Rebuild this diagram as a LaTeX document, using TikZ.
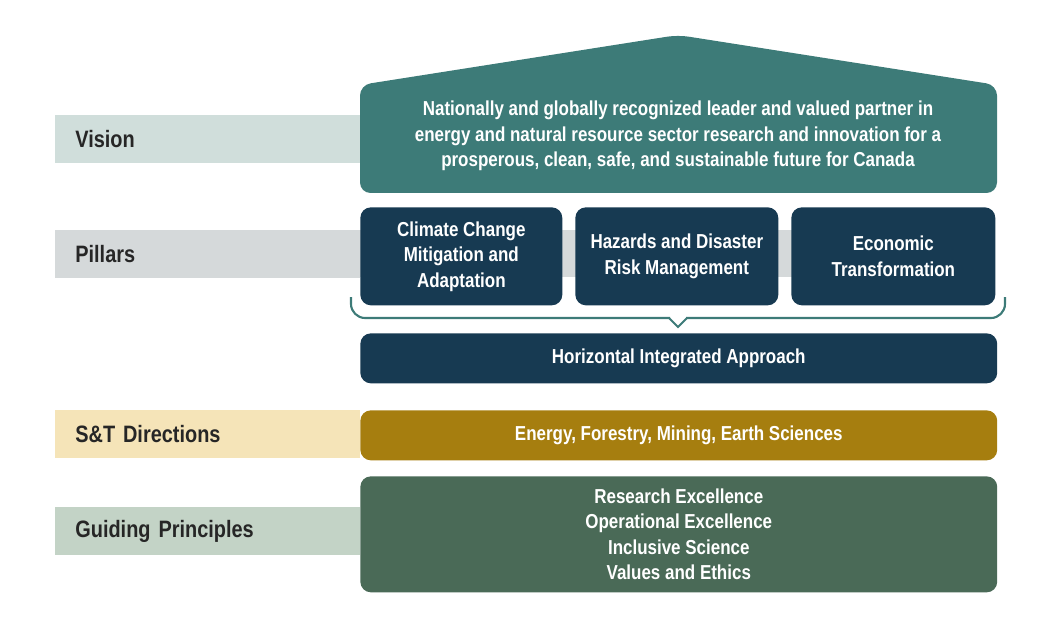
\documentclass[tikz,border=0pt]{standalone}
\usepackage{fontspec}
\setmainfont{Liberation Sans}[FakeStretch=0.84]
\usetikzlibrary{positioning}
\definecolor{visionteal}{HTML}{3D7B78}
\definecolor{pillarnavy}{HTML}{173A52}
\definecolor{directgold}{HTML}{A67E0F}
\definecolor{principgreen}{HTML}{4A6A57}
\definecolor{visionband}{HTML}{D0DEDB}
\definecolor{pillarband}{HTML}{D5D9DA}
\definecolor{directband}{HTML}{F5E4B8}
\definecolor{principband}{HTML}{C3D3C6}
\begin{document}
\begin{tikzpicture}[x=0.02cm,y=-0.02cm,font=\bfseries]

	\tikzstyle{every node}=[inner sep=0pt]
	\tikzstyle{band}=[minimum height=0.96cm,anchor=north west,text width=5.7cm,align=left,font=\bfseries\fontsize{13.5}{16}\selectfont,text=black!85]
	\tikzstyle{block}=[rounded corners=6pt,anchor=north west,text=white,align=center,font=\bfseries\fontsize{11.5}{14.5}\selectfont]

	\useasboundingbox (0,0) rectangle (1042,625);

	% bands on the left
	\fill[pillarband] (55,230) rectangle (990,277);
	\node[band,fill=visionband,minimum width=6.1cm] (visionlbl) at (55,115) {\hspace{0.2cm}Vision};
	\node[band,fill=pillarband,minimum width=6.1cm] (pillarlbl) at (55,230) {\hspace{0.2cm}Pillars};
	\node[band,fill=directband,minimum width=6.1cm] (directlbl) at (55,410) {\hspace{0.2cm}S\&T Directions};
	\node[band,fill=principband,minimum width=6.1cm] (principlbl) at (55,507) {\hspace{0.2cm}Guiding Principles};

	% vision roof
	\fill[visionteal,rounded corners=6pt] (360,193) -- (360,85) -- (678,35) -- (997,85) -- (997,193) -- cycle;
	\node[text=white,align=center,font=\bfseries\fontsize{11.5}{14.5}\selectfont] (vision) at (678,136)
		{Nationally and globally recognized leader and valued partner in\\energy and natural resource sector research and innovation for a\\prosperous, clean, safe, and sustainable future for Canada};

	% pillars
	\node[block,fill=pillarnavy,minimum width=4.04cm,minimum height=1.96cm] (climate) at (360,207) {Climate Change\\Mitigation and\\Adaptation};
	\node[block,fill=pillarnavy,minimum width=4.06cm,minimum height=1.96cm] (hazards) at (575,207) {Hazards and Disaster\\Risk Management};
	\node[block,fill=pillarnavy,minimum width=4.08cm,minimum height=1.96cm] (economic) at (791,207) {Economic\\Transformation};

	% brace
	\draw[visionteal,line width=1.2pt,rounded corners=8pt] (351,297) -- (351,318) -- (670,318);
	\draw[visionteal,line width=1.2pt,rounded corners=8pt] (686,318) -- (1005,318) -- (1005,297);
	\draw[visionteal,line width=1.2pt,line join=miter] (669,318) -- (678,327) -- (687,318);

	\node[block,fill=pillarnavy,minimum width=12.74cm,minimum height=1cm] (horizontal) at (360,333) {Horizontal Integrated Approach};
	\node[block,fill=directgold,minimum width=12.74cm,minimum height=1cm] (directions) at (360,410) {Energy, Forestry, Mining, Earth Sciences};
	\node[block,fill=principgreen,minimum width=12.74cm,minimum height=2.32cm] (principles) at (360,476)
		{Research Excellence\\Operational Excellence\\Inclusive Science\\Values and Ethics};

\end{tikzpicture}
\end{document}
